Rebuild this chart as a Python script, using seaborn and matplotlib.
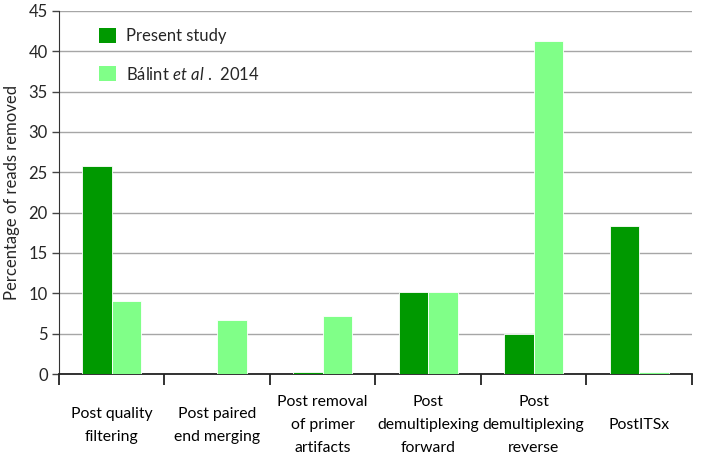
import matplotlib
matplotlib.use("Agg")
import matplotlib.pyplot as plt
import pandas as pd
import seaborn as sns
from matplotlib.patches import Patch

steps = ["Post quality\nfiltering", "Post paired\nend merging",
         "Post removal\nof primer\nartifacts", "Post\ndemultiplexing\nforward",
         "Post\ndemultiplexing\nreverse", "PostITSx"]
present_study = [25.8, 0.0, 0.3, 10.2, 5.0, 18.3]
balint_2014 = [9.0, 6.7, 7.2, 10.2, 41.3, 0.3]
series_names = ["Present study", "Bálint et al. 2014"]
colors = ["#009900", "#80FF88"]

df = pd.DataFrame({
    "step": steps * 2,
    "study": [series_names[0]] * len(steps) + [series_names[1]] * len(steps),
    "value": present_study + balint_2014,
})

sns.set_style("white")
plt.rcParams["font.family"] = ["Lato", "DejaVu Sans"]
plt.rcParams["mathtext.fontset"] = "custom"
plt.rcParams["mathtext.rm"] = "Lato"
plt.rcParams["mathtext.it"] = "Lato:italic"

fig = plt.figure(figsize=(7.09, 4.58), dpi=100)
ax = fig.add_axes([0.0832, 0.1834, 0.8928, 0.7926])

sns.barplot(data=df, x="step", y="value", hue="study", palette=colors,
            width=0.56, edgecolor="white", linewidth=0.6, saturation=1,
            legend=False, zorder=3, ax=ax)

ax.set_ylim(0, 45)
ax.set_yticks(range(0, 46, 5))
ax.set_xlim(-0.5, len(steps) - 0.5)
ax.yaxis.grid(True, color="#A6A6A6", linewidth=1, zorder=0)
ax.set_axisbelow(True)

# category boundaries carry the tick marks, labels sit in the middle
ax.set_xticks(range(len(steps)))
ax.set_xticklabels(steps, fontsize=11.3, linespacing=1.82, va="center")
ax.set_xticks([i - 0.5 for i in range(len(steps) + 1)], minor=True)
ax.tick_params(axis="x", which="major", length=0, pad=37, colors="black")
ax.tick_params(axis="x", which="minor", length=8, width=1.3, direction="out",
               color="#222222", bottom=True)
ax.tick_params(axis="y", length=5, width=1, direction="out", color="#444444",
               left=True, labelsize=12, pad=3)

for side in ["top", "right"]:
    ax.spines[side].set_visible(False)
ax.spines["left"].set_color("#333333")
ax.spines["bottom"].set_color("#222222")
ax.spines["bottom"].set_linewidth(1.3)

ax.set_xlabel("")
ax.set_ylabel("Percentage of reads removed", fontsize=12, labelpad=6)

handles = [Patch(facecolor=colors[0], edgecolor="none"),
           Patch(facecolor=colors[1], edgecolor="none")]
labels = ["Present study", r"Bálint $\it{et\ al}$ .  2014"]
ax.legend(handles, labels, loc="upper left", bbox_to_anchor=(0.04, 0.995),
          frameon=False, fontsize=12, handlelength=1.0, handleheight=1.0,
          labelspacing=1.3, handletextpad=0.6)

fig.savefig("out.png", dpi=100)
